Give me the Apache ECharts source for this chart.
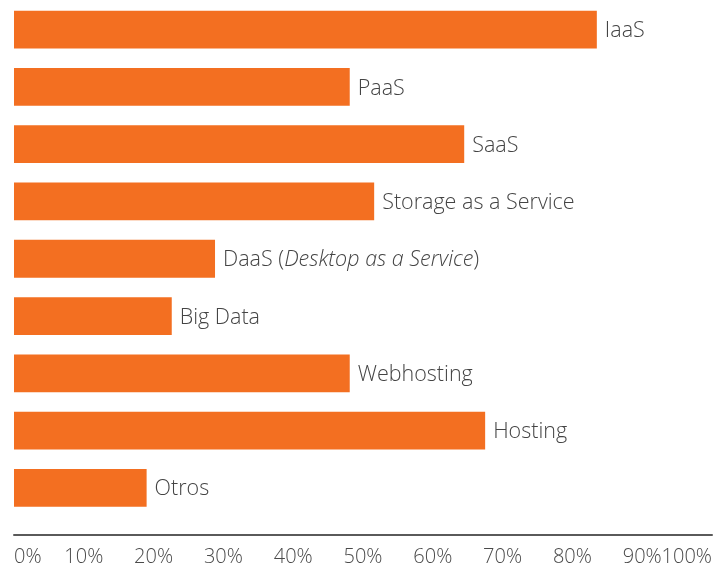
<!DOCTYPE html>
<html>
<head>
<meta charset="utf-8">
<script src="https://cdn.jsdelivr.net/npm/echarts@6/dist/echarts.min.js"></script>
<style>html,body{margin:0;padding:0;background:#fff}#c{width:726px;height:570px}</style>
</head>
<body>
<div id="c"></div>
<script>
const categories = ['IaaS', 'PaaS', 'SaaS', 'Storage as a Service', 'DaaS (Desktop as a Service)', 'Big Data', 'Webhosting', 'Hosting', 'Otros'];
const values = [83.5, 48.1, 64.5, 51.6, 28.8, 22.6, 48.1, 67.5, 19.0];
const tickLabels = ['0%', '10%', '20%', '30%', '40%', '50%', '60%', '70%', '80%', '90%', '100%'];

const FONT = '"Open Sans", "DejaVu Sans", sans-serif';
const chart = echarts.init(document.getElementById('c'));
chart.setOption({
  animation: false,
  grid: { left: 14, right: 14, top: 1, bottom: 53.5, containLabel: false },
  xAxis: {
    type: 'value', min: 0, max: 100, interval: 10,
    offset: 18.5,
    axisLine: { show: true, lineStyle: { color: '#5a5a5a', width: 2 } },
    axisTick: { show: false },
    splitLine: { show: false },
    axisLabel: {
      margin: 12,
      color: '#4a4a4a', fontSize: 20, fontFamily: FONT, fontWeight: 300,
      showMinLabel: true, showMaxLabel: true, hideOverlap: false,
      alignMinLabel: 'left', alignMaxLabel: 'right',
      formatter: function (v) { return tickLabels[Math.round(v / 10)]; }
    }
  },
  yAxis: {
    type: 'category', data: categories, inverse: true, show: false
  },
  series: [{
    type: 'bar',
    data: values,
    barCategoryGap: '34%',
    itemStyle: { color: '#F36F21' },
    label: {
      show: true, position: 'right', distance: 8, offset: [0, 1.5],
      color: '#444', fontSize: 21.5, fontFamily: FONT, fontWeight: 300,
      formatter: function (p) {
        if (p.dataIndex === 4) return 'DaaS ({i|Desktop as a Service})';
        return categories[p.dataIndex];
      },
      rich: {
        i: { fontStyle: 'italic', color: '#444', fontSize: 21.5, fontFamily: FONT, fontWeight: 300 }
      }
    }
  }]
});
</script>
</body>
</html>
